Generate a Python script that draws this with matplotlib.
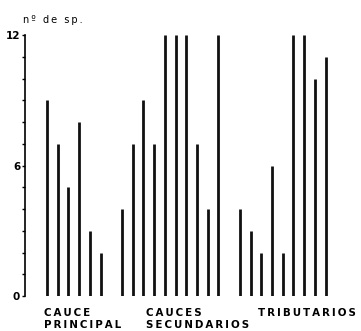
import matplotlib
matplotlib.use('Agg')
import matplotlib.pyplot as plt

# numero de especies por estacion
principal = [9, 7, 5, 8, 3, 2]
secundarios = [4, 7, 9, 7, 12, 12, 12, 7, 4, 12]
tributarios = [4, 3, 2, 6, 2, 12, 12, 10, 11]
group_names = ["CAUCE\nPRINCIPAL", "CAUCES\nSECUNDARIOS", "TRIBUTARIOS"]
label_x = [-0.3, 9.2, 19.7]
yticks = list(range(13))
ylabels = {0: "0", 6: "6", 12: "12"}

def spaced(s):
    return "\n".join("\u2009".join(line) for line in s.split("\n"))

fig = plt.figure(figsize=(3.61, 3.31), dpi=100)
ax = fig.add_axes([25 / 361, 35 / 331, 336 / 361, 261 / 331])

pos = 0
for g in [principal, secundarios, tributarios]:
    xs = list(range(pos, pos + len(g)))
    ax.vlines(xs, 0, g, color="#111111", linewidth=2.0)
    pos += len(g) + 1

ax.set_xlim(-2.05, 29.3)
ax.set_ylim(0, 12)
for s in ["top", "right", "bottom"]:
    ax.spines[s].set_visible(False)
ax.spines["left"].set_linewidth(1.2)
ax.set_xticks([])
ax.set_yticks(yticks)
ax.set_yticklabels([ylabels.get(t, "") for t in yticks], fontsize=7.5, fontweight="bold")
ax.tick_params(axis="y", length=2.5, width=1, pad=1)

for lx, name in zip(label_x, group_names):
    ax.text(lx, -0.55, spaced(name), ha="left", va="top",
            fontsize=7.4, fontweight="bold", linespacing=1.25)

ax.text(-2.25, 12.45, spaced("nº de sp."), ha="left", va="bottom", fontsize=7)

fig.savefig("out.png", dpi=100)
